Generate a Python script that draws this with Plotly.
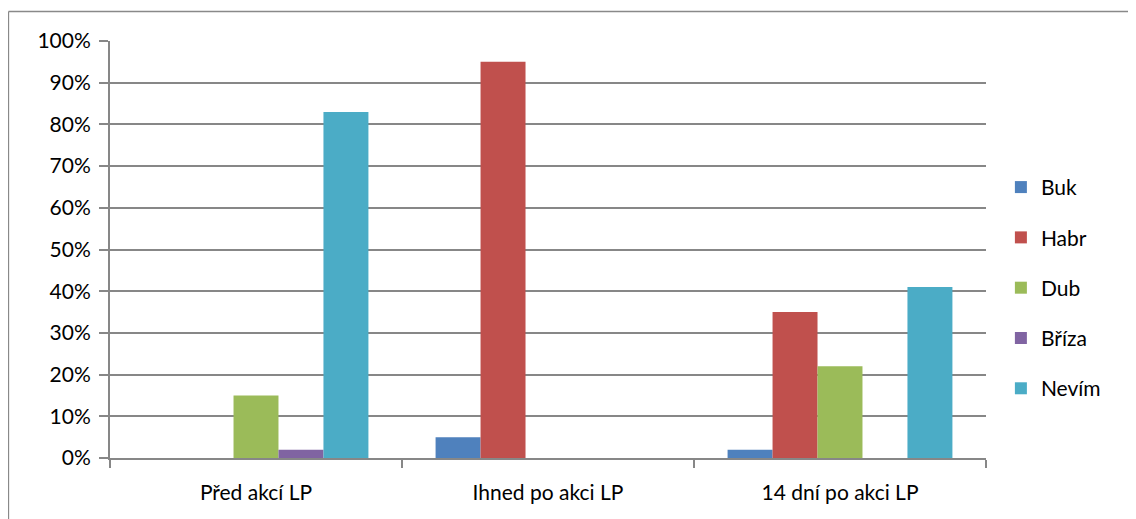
import plotly.graph_objects as go

categories = ["Před akcí LP", "Ihned po akci LP", "14 dní po akci LP"]
series_names = ["Buk", "Habr", "Dub", "Bříza", "Nevím"]
buk = [0.00, 0.05, 0.02]
habr = [0.00, 0.95, 0.35]
dub = [0.15, 0.00, 0.22]
briza = [0.02, 0.00, 0.00]
nevim = [0.83, 0.00, 0.41]
colors = ["#4F81BD", "#C0504D", "#9BBB59", "#8064A2", "#4BACC6"]
y_ticks = [0, 0.1, 0.2, 0.3, 0.4, 0.5, 0.6, 0.7, 0.8, 0.9, 1.0]

# page body has an 8px margin, so the figure starts at (8, 8)
W, H = 1128, 511
L, R, T, B = 102, 150, 33, 61

fig = go.Figure()
for name, vals, col in zip(series_names, [buk, habr, dub, briza, nevim], colors):
    fig.add_trace(go.Bar(name=name, x=categories, y=vals, marker_color=col,
                         marker_line_width=0, legendgroup=name))

pw = W - L - R
ph = H - T - B
bx0 = (0.5 - L) / pw
bx1 = (W - L) / pw
by_top = (H - B - 3.5) / ph
by_bot = (H - B - H) / ph
border = dict(color="#898989", width=1.3)
fig.add_shape(type="line", xref="paper", yref="paper",
              x0=bx0, x1=bx1, y0=by_top, y1=by_top, line=border, layer="below")
fig.add_shape(type="line", xref="paper", yref="paper",
              x0=bx0, x1=bx0, y0=by_bot, y1=by_top, line=border, layer="below")

fig.update_layout(
    width=W, height=H,
    margin=dict(l=L, r=R, t=T, b=B, pad=0),
    paper_bgcolor="white", plot_bgcolor="white",
    font=dict(family="Lato", size=21, color="#000000"),
    barmode="group", bargap=0.23, bargroupgap=0,
    legend=dict(x=1.017, y=0.698, xanchor="left", yanchor="top",
                tracegroupgap=20, font=dict(size=21), itemwidth=30),
    showlegend=True,
)
fig.update_xaxes(type="category", showline=True, linecolor="#878787", linewidth=2,
                 ticks="outside", tickson="boundaries", ticklen=8, tickwidth=2,
                 tickcolor="#878787", showgrid=False, ticklabelstandoff=15)
fig.update_yaxes(range=[0, 1.0], tickvals=y_ticks, tickformat=".0%",
                 showgrid=True, gridcolor="#878787", gridwidth=1.5,
                 showline=True, linecolor="#878787", linewidth=2,
                 ticks="outside", ticklen=9, tickwidth=2, tickcolor="#878787",
                 zeroline=False, ticklabelstandoff=4)

fig.write_html("out.html", config={"displayModeBar": False})
